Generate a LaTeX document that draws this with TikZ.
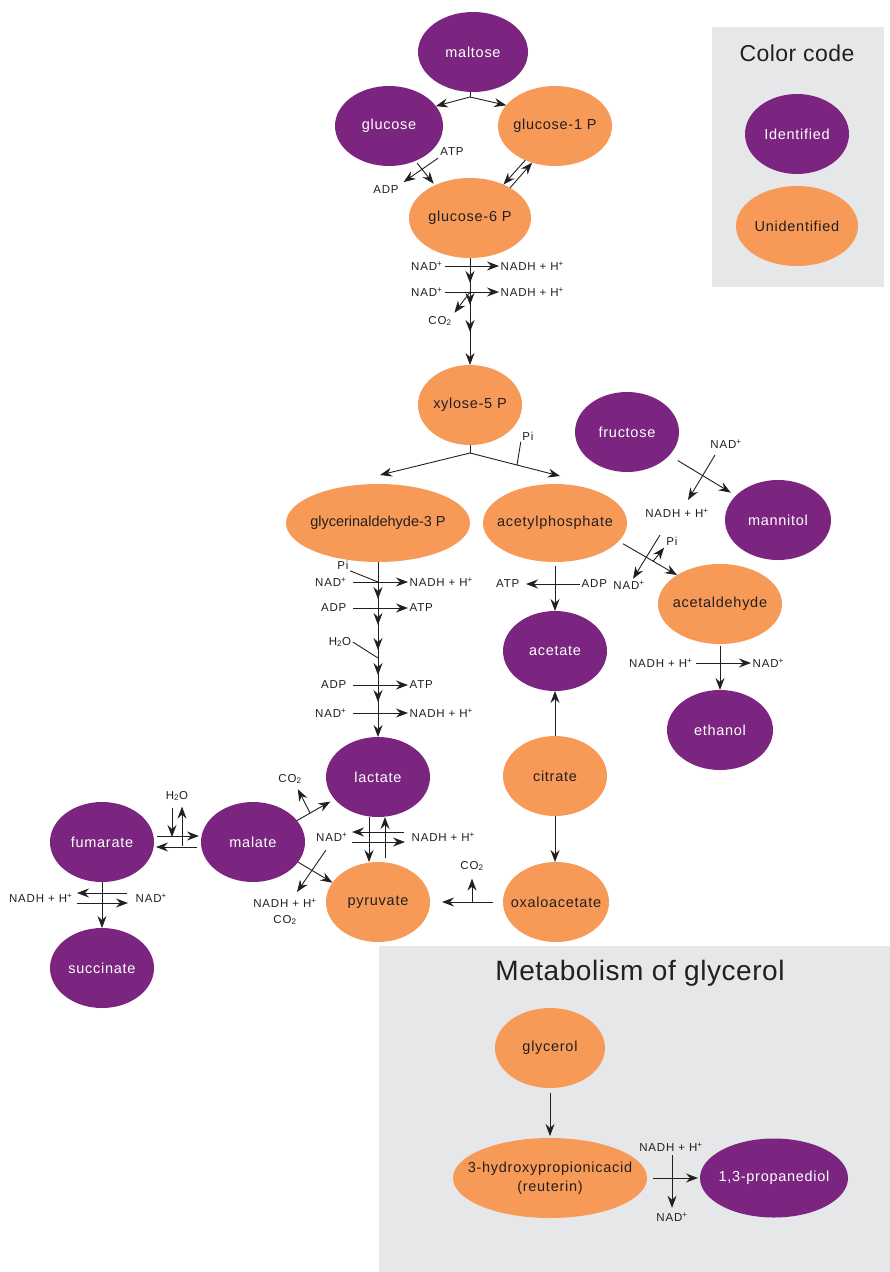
\documentclass[tikz,border=0pt]{standalone}
\usepackage{fontspec}
\setmainfont{Liberation Sans}
\newfontfamily\nfont[LetterSpace=5]{Liberation Sans}
\newfontfamily\nfonttight{Liberation Sans}
\newfontfamily\lfont[LetterSpace=7]{Liberation Sans}
\newfontfamily\tfont[LetterSpace=2]{Liberation Sans}
\usetikzlibrary{shapes.geometric, arrows.meta, decorations.markings, calc}
\definecolor{purp}{HTML}{7B2580}
\definecolor{oran}{HTML}{F79A57}
\definecolor{boxg}{HTML}{E6E7E8}
\definecolor{ink}{HTML}{231F20}
\newcommand{\rtip}{\arrow{Stealth[length=12pt,width=9pt,inset=4pt]}}
\tikzset{
 met/.style={ellipse, draw=none, inner sep=0pt, outer sep=0pt},
 idn/.style={met, fill=purp},
 uid/.style={met, fill=oran},
 wtxt/.style={text=white, font=\nfont\fontsize{14.5}{17}\selectfont, inner sep=0pt},
 dtxt/.style={text=ink, font=\nfont\fontsize{14.5}{19}\selectfont, inner sep=0pt},
 dtxtT/.style={text=ink, font=\nfonttight\fontsize{14.5}{17}\selectfont, inner sep=0pt},
 cof/.style={text=ink, font=\lfont\fontsize{11.5}{13}\selectfont, inner sep=1.5pt},
 arr/.style={draw=ink, line width=0.9pt, -{Stealth[length=12pt,width=9pt,inset=4pt]}},
 ln/.style={draw=ink, line width=0.9pt},
}
\begin{document}
\begin{tikzpicture}[x=1pt, y=-1pt]
\useasboundingbox (0,0) rectangle (890,1272);
\fill[white] (0,0) rectangle (890,1272);
% grey boxes
\fill[boxg] (712,27) rectangle (884,287);
\fill[boxg] (379,946) rectangle (890,1272);
\node[text=ink, font=\tfont\fontsize{23}{26}\selectfont] (cc) at (797,53) {Color code};
\node[text=ink, font=\tfont\fontsize{28}{32}\selectfont] (mg) at (640,973) {Metabolism of glycerol};

% metabolites
\node[idn, minimum width=110pt, minimum height=80pt, label={[wtxt]center:maltose}] (maltose) at (473,52) {};
\node[idn, minimum width=108pt, minimum height=80pt, label={[wtxt]center:glucose}] (glc) at (389,126) {};
\node[uid, minimum width=114pt, minimum height=80pt, label={[dtxt]center:glucose-1 P}] (g1p) at (555,126) {};
\node[uid, minimum width=122pt, minimum height=80pt, label={[dtxt]center:glucose-6 P}] (g6p) at (470,218) {};
\node[uid, minimum width=104pt, minimum height=80pt, label={[dtxt]center:xylose-5 P}] (x5p) at (470,405) {};
\node[idn, minimum width=104pt, minimum height=80pt, label={[wtxt]center:fructose}] (fru) at (627,432) {};
\node[uid, minimum width=184pt, minimum height=78pt, label={[dtxtT]center:glycerinaldehyde-3 P}] (gap) at (378,523) {};
\node[uid, minimum width=144pt, minimum height=78pt, label={[dtxt]center:acetylphosphate}] (acp) at (555,523) {};
\node[idn, minimum width=106pt, minimum height=80pt, label={[wtxt]center:mannitol}] (man) at (778,520) {};
\node[uid, minimum width=124pt, minimum height=80pt, label={[dtxt]center:acetaldehyde}] (acd) at (720,604) {};
\node[idn, minimum width=104pt, minimum height=80pt, label={[wtxt]center:acetate}] (ace) at (555,651) {};
\node[idn, minimum width=106pt, minimum height=80pt, label={[wtxt]center:ethanol}] (eth) at (720,730) {};
\node[idn, minimum width=104pt, minimum height=80pt, label={[wtxt]center:lactate}] (lac) at (378,777) {};
\node[uid, minimum width=104pt, minimum height=80pt, label={[dtxt]center:citrate}] (cit) at (555,776) {};
\node[idn, minimum width=104pt, minimum height=80pt, label={[wtxt]center:fumarate}] (fum) at (102,842) {};
\node[idn, minimum width=104pt, minimum height=80pt, label={[wtxt]center:malate}] (mlt) at (253,842) {};
\node[uid, minimum width=104pt, minimum height=80pt, label={[dtxt]center:pyruvate}] (pyr) at (378,902) {};
\node[uid, minimum width=106pt, minimum height=80pt, label={[dtxt]center:oxaloacetate}] (oxa) at (556,902) {};
\node[idn, minimum width=104pt, minimum height=80pt, label={[wtxt]center:succinate}] (suc) at (102,968) {};
\node[idn, minimum width=104pt, minimum height=80pt, label={[wtxt]center:Identified}] (idk) at (797,134) {};
\node[uid, minimum width=122pt, minimum height=80pt, label={[dtxt]center:Unidentified}] (uidk) at (797,226) {};
\node[uid, minimum width=110pt, minimum height=80pt, label={[dtxt]center:glycerol}] (gly) at (550,1048) {};
\node[uid, minimum width=194pt, minimum height=80pt, label={[dtxt, align=center]center:3-hydroxypropionicacid\\(reuterin)}] (hpa) at (550,1178) {};
\node[idn, minimum width=148pt, minimum height=79pt, label={[wtxt]center:{1,3-propanediol}}] (pdo) at (774,1178) {};

% maltose split
\coordinate (ms) at (470,97);
\draw[ln] (ms) -- (ms |- maltose.south);
\draw[arr] (ms) -- (glc.23);
\draw[arr] (ms) -- (g1p.157);

% glucose -> glucose-6 P
\node[cof] (atp1) at (452,152) {ATP};
\node[cof] (adp1) at (386,190) {ADP};
\draw[arr, shorten <=3pt, shorten >=2pt] (glc.-53) -- (g6p.137);
\draw[arr, shorten <=1pt, shorten >=4pt] (atp1.south west) -- (adp1.north east);

% glucose-1 P <-> glucose-6 P
\draw[arr] (g1p.229) -- (g6p.45);
\draw[arr] (g6p.37) -- (g1p.238);

% glucose-6 P -> xylose-5 P
\draw[arr, postaction=decorate, decoration={markings,
  mark=at position 25pt with {\rtip}, mark=at position 47pt with {\rtip},
  mark=at position 74pt with {\rtip}}] (g6p.south) -- (x5p.north);
\node[cof, anchor=east] (nad1) at (444,266) {NAD\textsuperscript{+}};
\node[cof, anchor=west] (nadh1) at (499,266) {NADH + H\textsuperscript{+}};
\node[cof, anchor=east] (nad2) at (444,292) {NAD\textsuperscript{+}};
\node[cof, anchor=west] (nadh2) at (499,292) {NADH + H\textsuperscript{+}};
\node[cof] (co2a) at (440,321) {CO\textsubscript{2}};
\draw[arr, shorten <=1pt] (nad1.east) -- (nadh1.west);
\draw[arr, shorten <=1pt] (nad2.east) -- (nadh2.west);
\coordinate (b2) at (470,292);
\draw[arr, shorten >=2pt] (b2) -- (co2a.north east);

% xylose split
\coordinate (xs) at (470,453);
\coordinate (gapin) at (380,475);
\coordinate (acpin) at (560,476);
\draw[ln] (x5p.south) -- (xs);
\draw[arr] (xs) -- (gapin);
\draw[arr] (xs) -- (acpin);
\node[cof] (pi1) at (528,436) {Pi};
\coordinate (xp) at (517,465);
\draw[ln] (xp) -- (pi1.south west);

% glycerinaldehyde-3 P -> lactate
\draw[arr, postaction=decorate, decoration={markings,
  mark=at position 37pt with {\rtip}, mark=at position 63pt with {\rtip},
  mark=at position 88pt with {\rtip}, mark=at position 113pt with {\rtip},
  mark=at position 140pt with {\rtip}}] (gap.south) -- (lac.north);
\node[cof, anchor=east] (nad3) at (348,582) {NAD\textsuperscript{+}};
\node[cof, anchor=west] (nadh3) at (408,582) {NADH + H\textsuperscript{+}};
\node[cof, anchor=east] (adp3) at (348,608) {ADP};
\node[cof, anchor=west] (atp3) at (408,608) {ATP};
\node[cof, anchor=east] (adp4) at (348,685) {ADP};
\node[cof, anchor=west] (atp4) at (408,685) {ATP};
\node[cof, anchor=east] (nad4) at (348,713) {NAD\textsuperscript{+}};
\node[cof, anchor=west] (nadh4) at (408,713) {NADH + H\textsuperscript{+}};
\draw[arr, shorten <=5pt] (nad3.east) -- (nadh3.west);
\draw[arr, shorten <=5pt] (adp3.east) -- (atp3.west);
\draw[arr, shorten <=5pt] (adp4.east) -- (atp4.west);
\draw[arr, shorten <=5pt] (nad4.east) -- (nadh4.west);
\node[cof] (pi2) at (343,565) {Pi};
\coordinate (k1) at (378,582);
\draw[ln] (pi2.south east) -- (k1);
\node[cof] (h2o1) at (340,642) {H\textsubscript{2}O};
\coordinate (k3) at (378,658);
\draw[ln] (h2o1.east) -- (k3);

% acetylphosphate -> acetate
\draw[arr, shorten <=4pt] (acp.south) -- (ace.north);
\node[cof, anchor=east] (atp5) at (521,584) {ATP};
\node[cof, anchor=west] (adp5) at (580,584) {ADP};
\draw[arr, shorten >=5pt] (adp5.west) -- (atp5.east);

% fructose -> mannitol
\draw[arr, shorten <=10pt, shorten >=6pt] (fru.-29) -- (man.150);
\node[cof] (nad6) at (726,444) {NAD\textsuperscript{+}};
\node[cof] (nadh6) at (677,513) {NADH + H\textsuperscript{+}};
\coordinate (f1) at (715,455);
\coordinate (f2) at (688,500);
\draw[arr] (f1) -- (f2);

% acetylphosphate -> acetaldehyde
\draw[arr, shorten <=5pt] (acp.-16) -- (acd.146);
\coordinate (ap) at ($(acp.-16)!0.59!(acd.146)$);
\node[cof] (pi3) at (672,541) {Pi};
\draw[arr, shorten >=1pt] (ap) -- (pi3.south west);
\node[cof] (nad7) at (629,585) {NAD\textsuperscript{+}};
\coordinate (q1) at (660,535);
\draw[arr] (q1) -- ([xshift=4pt]nad7.north);

% acetaldehyde -> ethanol
\draw[arr, shorten <=2pt] (acd.south) -- (eth.north);
\node[cof, anchor=east] (nadh7) at (694,663) {NADH + H\textsuperscript{+}};
\node[cof, anchor=west] (nad8) at (751,663) {NAD\textsuperscript{+}};
\draw[arr, shorten <=2pt] (nadh7.east) -- (nad8.west);

% citrate
\draw[arr] (cit.north) -- (ace.south);
\draw[arr] (cit.south) -- (cit.south |- oxa.north);

% oxaloacetate -> pyruvate
\draw[arr, shorten <=10pt, shorten >=12pt] (oxa.west) -- (pyr.east);
\coordinate (ob) at (472,902);
\node[cof] (co2c) at (472,866) {CO\textsubscript{2}};
\draw[arr, shorten >=6pt] (ob) -- (co2c.south);

% lactate <-> pyruvate
\draw[arr] ([xshift=-9pt]lac.south) -- ([xshift=-9pt]pyr.north);
\draw[arr, shorten <=4pt] ([xshift=7pt]pyr.north) -- ([xshift=7pt]lac.south);
\node[cof, anchor=east] (nad9) at (349,837) {NAD\textsuperscript{+}};
\node[cof, anchor=west] (nadh9) at (410,837) {NADH + H\textsuperscript{+}};
\draw[arr, shorten <=6pt, shorten >=3pt] ([yshift=5pt]nadh9.west) -- ([yshift=5pt]nad9.east);
\draw[arr, shorten <=3pt, shorten >=5pt] ([yshift=-5pt]nad9.east) -- ([yshift=-5pt]nadh9.west);

% malate -> lactate, malate -> pyruvate
\draw[arr, shorten >=5pt] (mlt.26) -- (lac.207);
\coordinate (mp) at ($(mlt.26)!0.35!(lac.207)$);
\node[cof] (co2d) at (290,779) {CO\textsubscript{2}};
\draw[arr, shorten >=4pt] (mp) -- ([xshift=6pt]co2d.south);
\draw[arr] (mlt.-24) -- (pyr.157);
\node[cof] (nadh10) at (285,903) {NADH + H\textsuperscript{+}};
\node[cof] (co2e) at (285,920) {CO\textsubscript{2}};
\coordinate (n9a) at (326,850);
\coordinate (n9b) at (297,892);
\draw[arr] (n9a) -- (n9b);

% fumarate <-> malate
\draw[arr, shorten <=3pt, shorten >=2pt] ([yshift=6pt]fum.east) -- ([yshift=6pt]mlt.west);
\draw[arr, shorten <=4pt, shorten >=2pt] ([yshift=-5pt]mlt.west) -- ([yshift=-5pt]fum.east);
\node[cof] (h2o2) at (177,796) {H\textsubscript{2}O};
\coordinate (hw1) at (172,837);
\coordinate (hw2) at (182,846);
\draw[arr, shorten <=5pt] ([xshift=-5pt]h2o2.south) -- (hw1);
\draw[arr, shorten >=4pt] (hw2) -- ([xshift=5pt]h2o2.south);

% fumarate -> succinate
\draw[arr] (fum.south) -- (suc.north);
\node[cof, anchor=east] (nadh11) at (74,898) {NADH + H\textsuperscript{+}};
\node[cof, anchor=west] (nad11) at (134,898) {NAD\textsuperscript{+}};
\draw[arr, shorten <=7pt, shorten >=3pt] ([yshift=5pt]nad11.west) -- ([yshift=5pt]nadh11.east);
\draw[arr, shorten <=3pt, shorten >=6pt] ([yshift=-5pt]nadh11.east) -- ([yshift=-5pt]nad11.west);

% glycerol
\draw[arr, shorten <=5pt, shorten >=2pt] (gly.south) -- (hpa.north);
\draw[arr, shorten <=6pt, shorten >=2pt] (hpa.east) -- (pdo.west);
\node[cof] (nadh12) at (671,1147) {NADH + H\textsuperscript{+}};
\node[cof] (nad12) at (672,1217) {NAD\textsuperscript{+}};
\draw[arr, shorten <=2pt, shorten >=3pt] (nadh12.south -| nad12.north) -- (nad12.north);
\end{tikzpicture}
\end{document}
